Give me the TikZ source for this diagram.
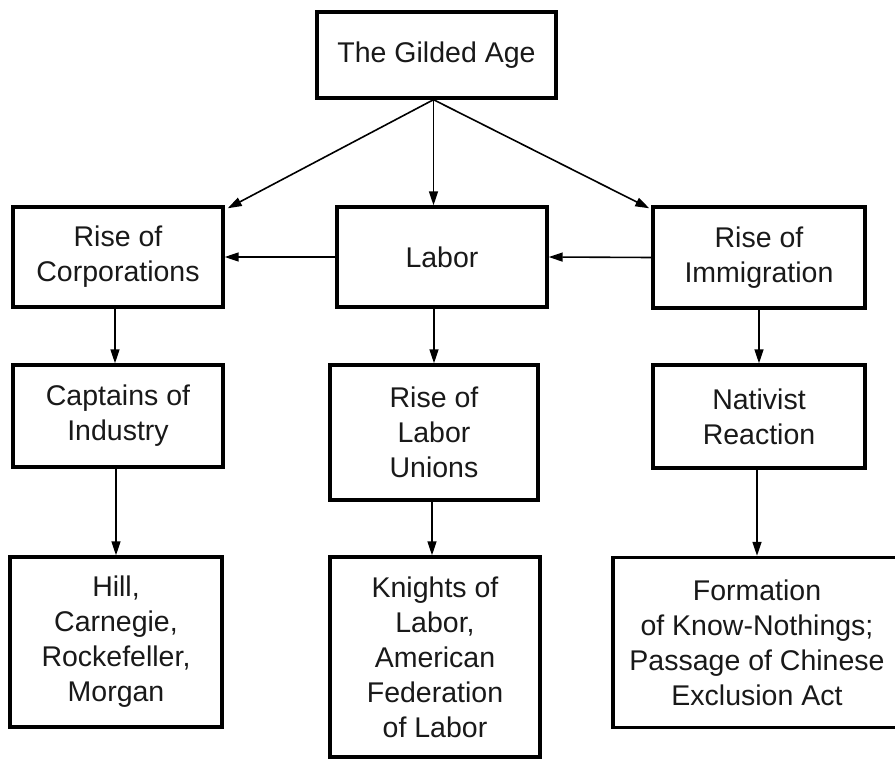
\documentclass[tikz,border=0pt]{standalone}
\usepackage{fontspec}
\setmainfont{Liberation Sans}
\usetikzlibrary{arrows.meta}
\begin{document}
\begin{tikzpicture}[x=1pt,y=-1pt,
  box/.style={draw=black, line width=3.4pt, inner sep=0pt, align=center,
    font=\fontsize{28.5}{35}\selectfont, text=black!90},
  arr/.style={draw=black, line width=1.6pt, -{Triangle[length=14pt,width=9pt]}}]
\useasboundingbox (0,0) rectangle (895,760);
\clip (0,0) rectangle (895,760);
\fill[white] (0,0) rectangle (895,760);

% top
\node[box, minimum width=239pt, minimum height=86pt] (gilded) at (436.5,55) {The Gilded Age};

% second row
\node[box, minimum width=210pt, minimum height=100pt] (corp) at (118,257) {Rise of\\Corporations};
\node[box, minimum width=210pt, minimum height=100pt] (labor) at (442,257) {Labor};
\node[box, minimum width=212pt, minimum height=101pt] (immig) at (759,257.5) {Rise of\\Immigration};

% third row
\node[box, minimum width=210pt, minimum height=102pt] (captains) at (118,416) {Captains of\\Industry};
\node[box, minimum width=208pt, minimum height=135pt] (unions) at (434,432.5) {Rise of\\Labor\\Unions};
\node[box, minimum width=212pt, minimum height=103pt] (nativist) at (759,416.5) {Nativist\\Reaction};

% bottom row
\node[box, minimum width=212pt, minimum height=170pt] (hill) at (116,642) {Hill,\\Carnegie,\\Rockefeller,\\Morgan};
\node[box, minimum width=210pt, minimum height=200pt] (knights) at (435,657) {Knights of\\Labor,\\American\\Federation\\of Labor};
% the last box runs off the right edge of the page
\node[box, minimum width=360pt, minimum height=170pt] (formation) at (793,642.5) {};
\node[align=center, font=\fontsize{28.5}{35}\selectfont, text=black!90] (formtext) at (757,642.5)
  {Formation\\of Know-Nothings;\\Passage of Chinese\\Exclusion Act};

% fan from the top box
\coordinate (fan) at ([xshift=-3pt]gilded.south);
\draw[arr] (fan) -- ([shift={(3pt,-3pt)}]corp.north east);
\draw[arr] (fan) -- (fan |- labor.north);
\draw[arr] (fan) -- ([shift={(-2pt,-3pt)}]immig.north west);

% sideways links into the left boxes
\draw[arr] (labor.west) -- (corp.east);
\draw[arr] (immig.west) -- (labor.east);

% downward chains
\draw[arr] ([xshift=-3pt]corp.south) -- ([xshift=-3pt]captains.north);
\draw[arr] (unions.north |- labor.south) -- (unions.north);
\draw[arr] (immig.south) -- (nativist.north);
\draw[arr] (hill.north |- captains.south) -- (hill.north);
\draw[arr] ([xshift=-2pt]unions.south) -- ([xshift=-3pt]knights.north);
\draw[arr] (formtext.north |- nativist.south) -- (formtext.north |- formation.north);
\end{tikzpicture}
\end{document}
